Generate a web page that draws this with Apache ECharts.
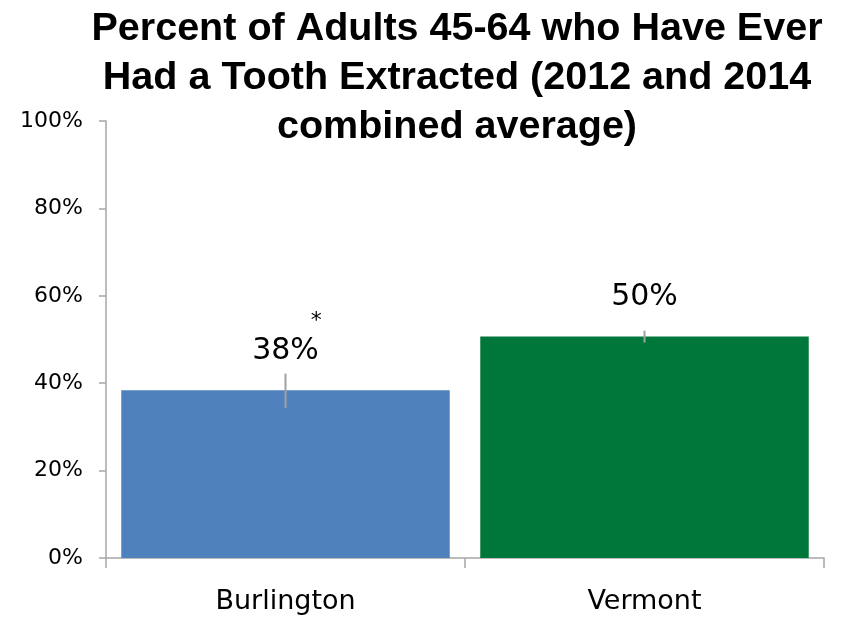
<!DOCTYPE html>
<html>
<head>
<meta charset="utf-8">
<script src="https://cdn.jsdelivr.net/npm/echarts@6/dist/echarts.min.js"></script>
<style>
  html, body { margin: 0; padding: 0; background: #fff; }
  #chart { width: 842px; height: 617px; }
</style>
</head>
<body>
<div id="chart"></div>
<script>
const categories = ['Burlington', 'Vermont']
const values = [38.4, 50.7]
const labels = ['38%', '50%']
const errLow = [34.3, 49.3]
const errHigh = [42.2, 52.0]
const colors = ['#4f81bd', '#00773a']
const yTicks = [0, 20, 40, 60, 80, 100]

const chart = echarts.init(document.getElementById('chart'))

chart.setOption({
  animation: false,
  title: {
    text: 'Percent of Adults 45-64 who Have Ever\nHad a Tooth Extracted (2012 and 2014\ncombined average)',
    left: 452,
    textAlign: 'center',
    top: 0,
    textStyle: {
      fontFamily: 'Liberation Sans',
      fontWeight: 'bold',
      fontSize: 39.5,
      lineHeight: 49,
      color: '#000'
    }
  },
  grid: { left: 106, right: 18, top: 121, bottom: 59 },
  xAxis: {
    type: 'category',
    data: categories,
    axisLine: { lineStyle: { color: '#a6a6a6', width: 1.5 } },
    axisTick: { show: true, length: 10, lineStyle: { color: '#a6a6a6', width: 1.5 } },
    axisLabel: { color: '#000', fontFamily: 'DejaVu Sans', fontSize: 27, margin: 30 }
  },
  yAxis: {
    type: 'value',
    min: 0,
    max: 100,
    interval: 20,
    axisLine: { show: true, lineStyle: { color: '#a6a6a6', width: 1.5 } },
    axisTick: { show: true, length: 7, lineStyle: { color: '#a6a6a6', width: 1.5 } },
    splitLine: { show: false },
    axisLabel: {
      color: '#000',
      fontFamily: 'DejaVu Sans',
      fontSize: 22,
      margin: 23,
      formatter: v => (yTicks.includes(v) ? v + '%' : '')
    }
  },
  series: [
    {
      type: 'bar',
      barCategoryGap: '8.5%',
      data: values.map((v, i) => ({
        value: v,
        itemStyle: { color: colors[i] },
        label: {
          show: true,
          position: 'top',
          distance: 24,
          formatter: i === 0 ? '{star|*}\n{val|' + labels[i] + '}' : '{val|' + labels[i] + '}',
          rich: {
            star: { fontFamily: 'DejaVu Sans', fontSize: 22, color: '#000', align: 'right', padding: [0, -3, 4, 0] },
            val: { fontFamily: 'DejaVu Sans', fontSize: 30, color: '#000' }
          }
        }
      }))
    },
    {
      type: 'custom',
      z: 5,
      data: categories.map((c, i) => [i, errLow[i], errHigh[i]]),
      renderItem: (params, api) => {
        const lo = api.coord([api.value(0), api.value(1)])
        const hi = api.coord([api.value(0), api.value(2)])
        return {
          type: 'line',
          shape: { x1: lo[0], y1: lo[1], x2: hi[0], y2: hi[1] },
          style: { stroke: '#a0a0a0', lineWidth: 2 }
        }
      }
    }
  ]
})
</script>
</body>
</html>
